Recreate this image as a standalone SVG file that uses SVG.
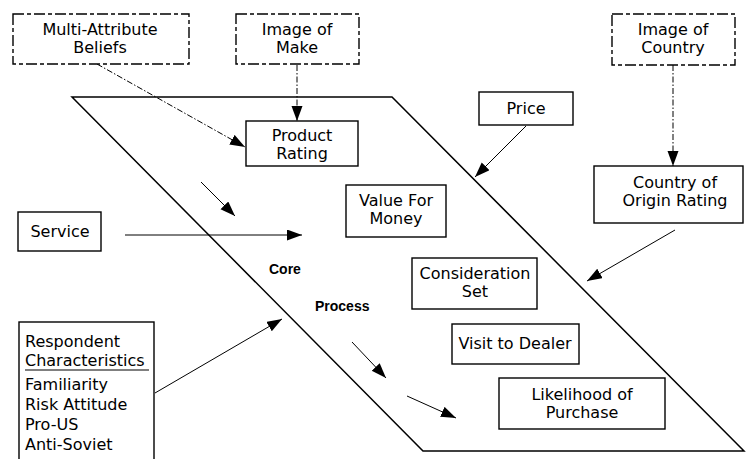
<svg xmlns="http://www.w3.org/2000/svg" width="746" height="459" viewBox="0 0 746 459">
<style>
  .box { fill: #fff; stroke: #000; stroke-width: 1.4; }
  .dbox { fill: #fff; stroke: #000; stroke-width: 1.4; stroke-dasharray: 11,3,4,3; }
  .t { font-family: "DejaVu Sans", Verdana, sans-serif; font-size: 16px; fill: #000; }
  .c { text-anchor: middle; }
  .b { font-family: "Liberation Sans", Arial, sans-serif; font-size: 14px; font-weight: bold; fill: #000; }
  .ln { stroke: #000; stroke-width: 1; fill: none; }
  .dd { stroke-dasharray: 6,2,1.5,2; }
</style>
<defs>
  <marker id="ah" markerUnits="userSpaceOnUse" markerWidth="16" markerHeight="12" refX="15" refY="5.5" orient="auto">
    <path d="M0,0 L15,5.5 L0,11 z" fill="#000"/>
  </marker>
</defs>
<rect width="746" height="459" fill="#fff"/>

<g id="core-process">
  <polygon points="72,97 392,97 744,451 423,451" fill="none" stroke="#000" stroke-width="1.5"/>
  <text class="b" x="269" y="274">Core</text>
  <text class="b" x="315" y="311">Process</text>
</g>

<g id="connectors">
  <line class="ln dd" x1="97" y1="64" x2="245" y2="147" marker-end="url(#ah)"/>
  <line class="ln dd" x1="297" y1="65" x2="297" y2="121" marker-end="url(#ah)"/>
  <line class="ln dd" x1="673" y1="65" x2="673" y2="166" marker-end="url(#ah)"/>
  <line class="ln" x1="526" y1="126" x2="475" y2="177" marker-end="url(#ah)"/>
  <line class="ln" x1="201" y1="182" x2="235" y2="216" marker-end="url(#ah)"/>
  <line class="ln" x1="125" y1="235" x2="302" y2="235" marker-end="url(#ah)"/>
  <line class="ln" x1="675" y1="230" x2="587" y2="281" marker-end="url(#ah)"/>
  <line class="ln" x1="155" y1="393" x2="282" y2="319" marker-end="url(#ah)"/>
  <line class="ln" x1="352" y1="342" x2="386" y2="378" marker-end="url(#ah)"/>
  <line class="ln" x1="407" y1="396" x2="456" y2="418" marker-end="url(#ah)"/>
</g>

<g id="multi-attribute-beliefs">
  <rect class="dbox" x="13" y="14" width="176" height="50"/>
  <text class="t c" x="100" y="35">Multi-Attribute</text>
  <text class="t c" x="100" y="53">Beliefs</text>
</g>
<g id="image-of-make">
  <rect class="dbox" x="236" y="14" width="123" height="50"/>
  <text class="t c" x="297" y="35">Image of</text>
  <text class="t c" x="297" y="53">Make</text>
</g>
<g id="image-of-country">
  <rect class="dbox" x="612" y="14" width="123" height="51"/>
  <text class="t c" x="673" y="35">Image of</text>
  <text class="t c" x="673" y="53">Country</text>
</g>
<g id="product-rating">
  <rect class="box" x="246" y="121" width="112" height="45"/>
  <text class="t c" x="302" y="141">Product</text>
  <text class="t c" x="302" y="159">Rating</text>
</g>
<g id="price">
  <rect class="box" x="479" y="92" width="94" height="33"/>
  <text class="t c" x="526" y="114">Price</text>
</g>
<g id="country-of-origin-rating">
  <rect class="box" x="594" y="166" width="149" height="57"/>
  <text class="t c" x="675" y="188">Country of</text>
  <text class="t c" x="675" y="206">Origin Rating</text>
</g>
<g id="value-for-money">
  <rect class="box" x="346" y="185" width="100" height="52"/>
  <text class="t c" x="396" y="206">Value For</text>
  <text class="t c" x="396" y="224">Money</text>
</g>
<g id="service">
  <rect class="box" x="18" y="212" width="83" height="39"/>
  <text class="t c" x="60" y="237">Service</text>
</g>
<g id="consideration-set">
  <rect class="box" x="412" y="258" width="125" height="51"/>
  <text class="t c" x="475" y="279">Consideration</text>
  <text class="t c" x="475" y="297">Set</text>
</g>
<g id="visit-to-dealer">
  <rect class="box" x="452" y="324" width="127" height="40"/>
  <text class="t c" x="515" y="349">Visit to Dealer</text>
</g>
<g id="likelihood-of-purchase">
  <rect class="box" x="499" y="378" width="166" height="51"/>
  <text class="t c" x="582" y="400">Likelihood of</text>
  <text class="t c" x="582" y="418">Purchase</text>
</g>
<g id="respondent-characteristics">
  <rect class="box" x="19" y="322" width="135" height="150"/>
  <text class="t" x="25" y="347">Respondent</text>
  <text class="t" x="25" y="366">Characteristics</text>
  <line x1="25" y1="370" x2="149" y2="370" stroke="#000" stroke-width="1.2"/>
  <text class="t" x="25" y="390">Familiarity</text>
  <text class="t" x="25" y="410">Risk Attitude</text>
  <text class="t" x="25" y="430">Pro-US</text>
  <text class="t" x="25" y="450">Anti-Soviet</text>
</g>
</svg>
